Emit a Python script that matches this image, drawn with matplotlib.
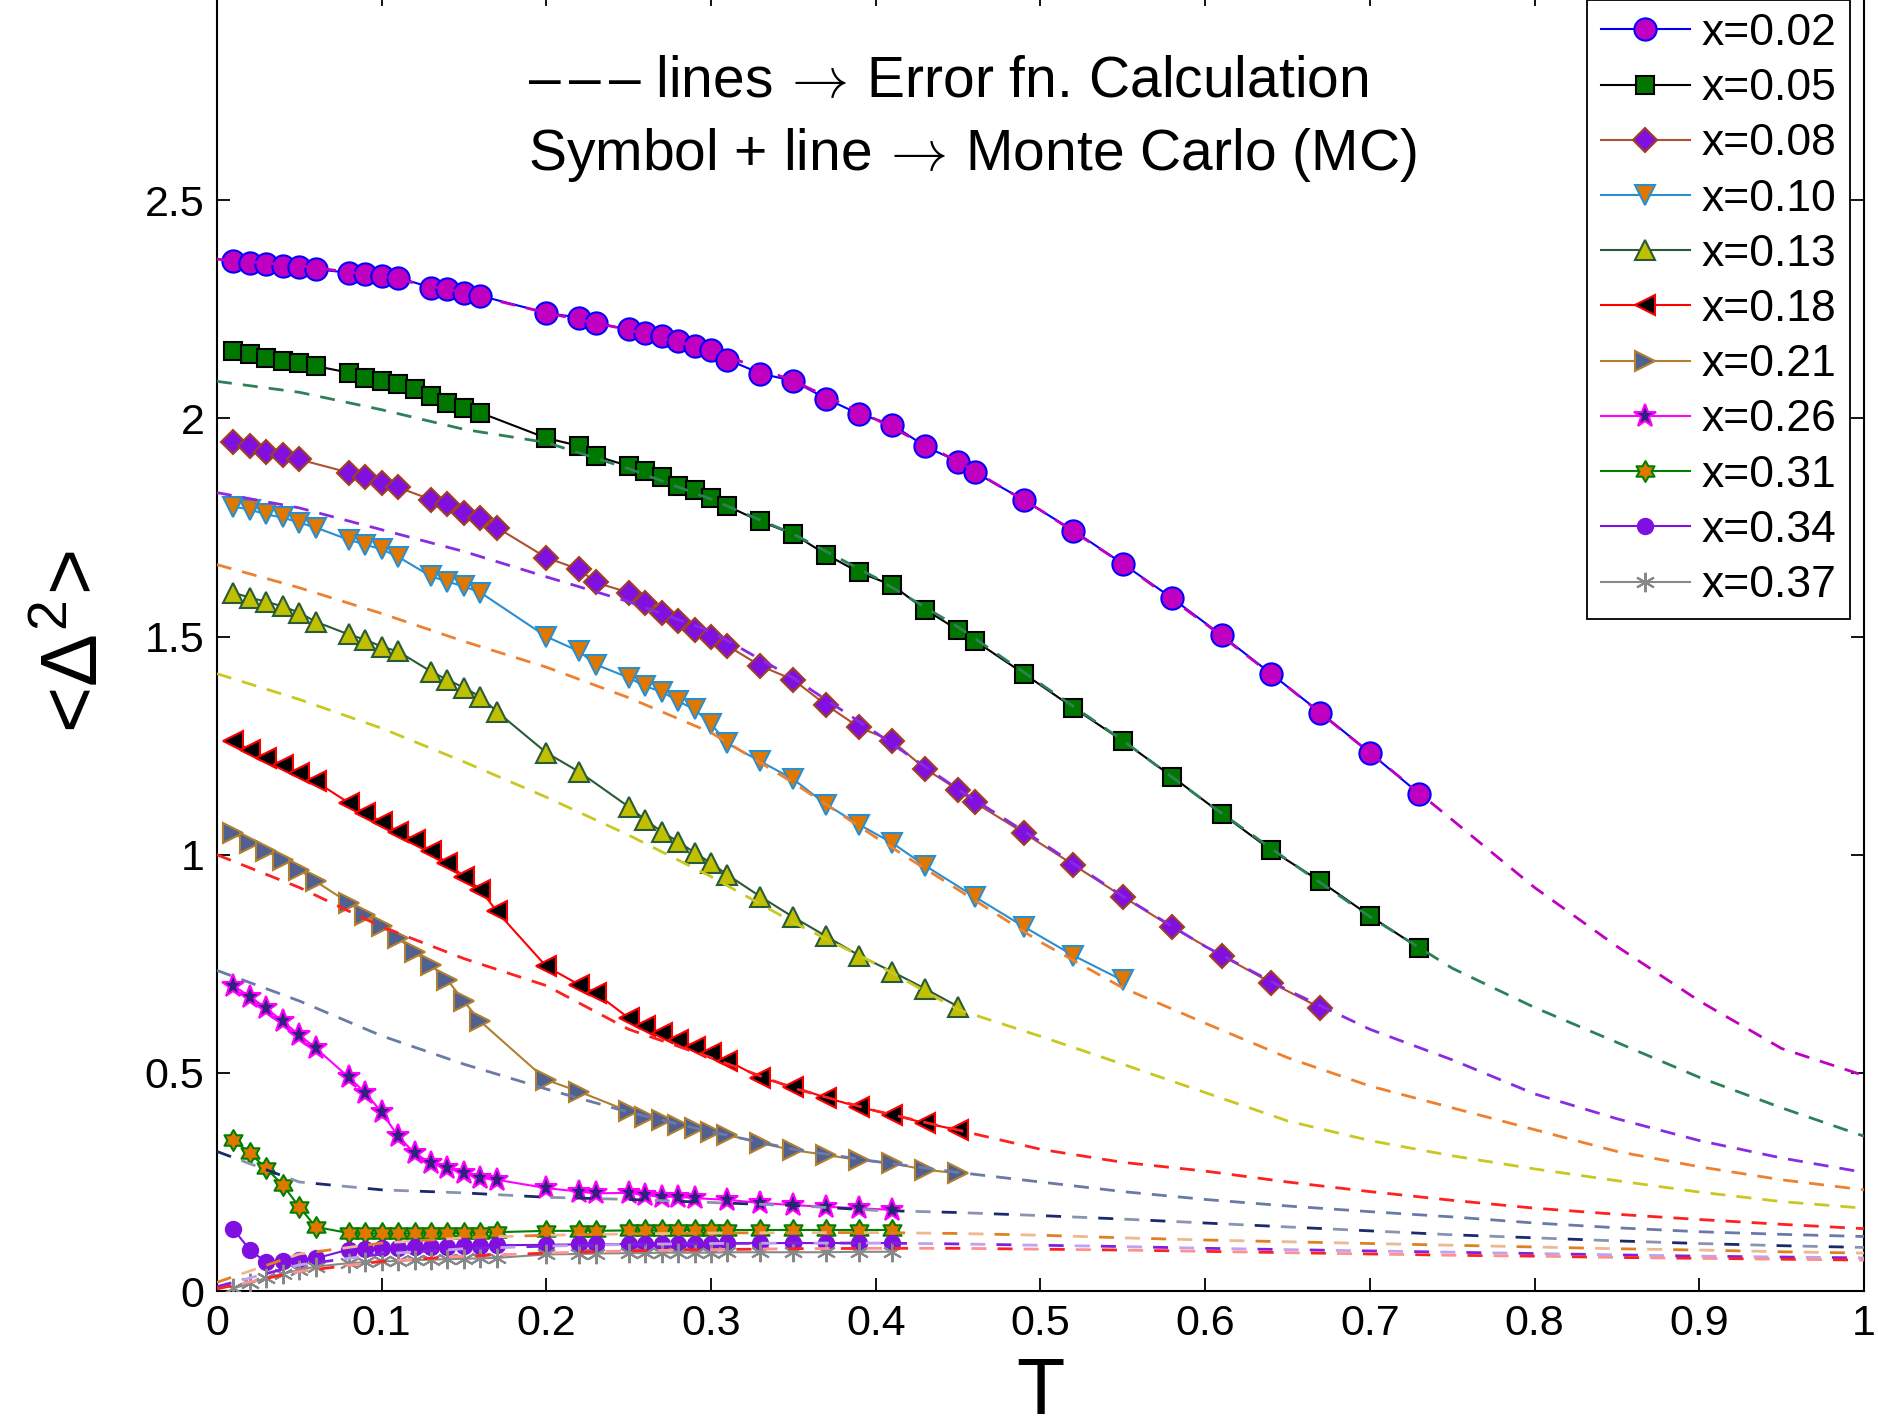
import matplotlib
matplotlib.use("Agg")
import matplotlib.pyplot as plt
from matplotlib.path import Path

plt.rcParams['font.family'] = ['Liberation Sans', 'DejaVu Sans']
plt.rcParams['mathtext.fontset'] = 'cm'

# --- Monte Carlo data (symbol + line)
t_002 = [0.01, 0.02, 0.03, 0.04, 0.05, 0.06, 0.08, 0.09, 0.10, 0.11, 0.13, 0.14, 0.15, 0.16,
         0.20, 0.22, 0.23, 0.25, 0.26, 0.27, 0.28, 0.29, 0.30, 0.31, 0.33, 0.35, 0.37, 0.39,
         0.41, 0.43, 0.45, 0.46, 0.49, 0.52, 0.55, 0.58, 0.61, 0.64, 0.67, 0.70, 0.73]
d_002 = [2.361, 2.357, 2.353, 2.349, 2.346, 2.342, 2.334, 2.330, 2.326, 2.323, 2.300, 2.296,
         2.288, 2.281, 2.242, 2.231, 2.219, 2.204, 2.196, 2.189, 2.177, 2.166, 2.156, 2.135,
         2.103, 2.086, 2.045, 2.010, 1.986, 1.936, 1.901, 1.877, 1.813, 1.743, 1.667, 1.588,
         1.503, 1.415, 1.326, 1.234, 1.140]

t_005 = [0.01, 0.02, 0.03, 0.04, 0.05, 0.06, 0.08, 0.09, 0.10, 0.11, 0.12, 0.13, 0.14, 0.15,
         0.16, 0.20, 0.22, 0.23, 0.25, 0.26, 0.27, 0.28, 0.29, 0.30, 0.31, 0.33, 0.35, 0.37,
         0.39, 0.41, 0.43, 0.45, 0.46, 0.49, 0.52, 0.55, 0.58, 0.61, 0.64, 0.67, 0.70, 0.73]
d_005 = [2.154, 2.147, 2.139, 2.131, 2.128, 2.120, 2.105, 2.093, 2.086, 2.078, 2.067, 2.051,
         2.036, 2.024, 2.013, 1.955, 1.937, 1.914, 1.891, 1.879, 1.865, 1.845, 1.837, 1.818,
         1.799, 1.764, 1.735, 1.688, 1.647, 1.618, 1.562, 1.515, 1.491, 1.415, 1.337, 1.261,
         1.179, 1.094, 1.011, 0.939, 0.860, 0.786]

t_008 = [0.01, 0.02, 0.03, 0.04, 0.05, 0.08, 0.09, 0.10, 0.11, 0.13, 0.14, 0.15, 0.16, 0.17,
         0.20, 0.22, 0.23, 0.25, 0.26, 0.27, 0.28, 0.29, 0.30, 0.31, 0.33, 0.35, 0.37, 0.39,
         0.41, 0.43, 0.45, 0.46, 0.49, 0.52, 0.55, 0.58, 0.61, 0.64, 0.67]
d_008 = [1.945, 1.936, 1.924, 1.917, 1.906, 1.876, 1.865, 1.853, 1.842, 1.814, 1.803, 1.784,
         1.772, 1.750, 1.681, 1.654, 1.624, 1.601, 1.578, 1.555, 1.535, 1.516, 1.499, 1.479,
         1.433, 1.401, 1.343, 1.292, 1.261, 1.197, 1.149, 1.120, 1.050, 0.977, 0.904, 0.834,
         0.769, 0.707, 0.649]

t_010 = [0.01, 0.02, 0.03, 0.04, 0.05, 0.06, 0.08, 0.09, 0.10, 0.11, 0.13, 0.14, 0.15, 0.16,
         0.20, 0.22, 0.23, 0.25, 0.26, 0.27, 0.28, 0.29, 0.30, 0.31, 0.33, 0.35, 0.37, 0.39,
         0.41, 0.43, 0.46, 0.49, 0.52, 0.55]
d_010 = [1.798, 1.791, 1.780, 1.773, 1.761, 1.750, 1.722, 1.711, 1.700, 1.683, 1.638, 1.626,
         1.615, 1.601, 1.500, 1.466, 1.436, 1.406, 1.386, 1.374, 1.352, 1.333, 1.300, 1.255,
         1.214, 1.173, 1.115, 1.069, 1.027, 0.975, 0.904, 0.835, 0.769, 0.712]

t_013 = [0.01, 0.02, 0.03, 0.04, 0.05, 0.06, 0.08, 0.09, 0.10, 0.11, 0.13, 0.14, 0.15, 0.16,
         0.17, 0.20, 0.22, 0.25, 0.26, 0.27, 0.28, 0.29, 0.30, 0.31, 0.33, 0.35, 0.37, 0.39,
         0.41, 0.43, 0.45]
d_013 = [1.601, 1.589, 1.580, 1.569, 1.555, 1.534, 1.505, 1.493, 1.477, 1.466, 1.420, 1.401,
         1.383, 1.362, 1.328, 1.234, 1.190, 1.110, 1.080, 1.053, 1.030, 1.005, 0.981, 0.954,
         0.904, 0.857, 0.813, 0.769, 0.732, 0.693, 0.652]

t_018 = [0.01, 0.02, 0.03, 0.04, 0.05, 0.06, 0.08, 0.09, 0.10, 0.11, 0.12, 0.13, 0.14, 0.15,
         0.16, 0.17, 0.20, 0.22, 0.23, 0.25, 0.26, 0.27, 0.28, 0.29, 0.30, 0.31, 0.33, 0.35,
         0.37, 0.39, 0.41, 0.43, 0.45]
d_018 = [1.260, 1.241, 1.222, 1.206, 1.187, 1.168, 1.119, 1.095, 1.076, 1.053, 1.034, 1.008,
         0.981, 0.950, 0.920, 0.870, 0.744, 0.702, 0.683, 0.626, 0.608, 0.591, 0.576, 0.560,
         0.545, 0.528, 0.489, 0.468, 0.443, 0.422, 0.404, 0.385, 0.369]

t_021 = [0.01, 0.02, 0.03, 0.04, 0.05, 0.06, 0.08, 0.09, 0.10, 0.11, 0.12, 0.13, 0.14, 0.15,
         0.16, 0.20, 0.22, 0.25, 0.26, 0.27, 0.28, 0.29, 0.30, 0.31, 0.33, 0.35, 0.37, 0.39,
         0.41, 0.43, 0.45]
d_021 = [1.050, 1.027, 1.008, 0.989, 0.966, 0.939, 0.890, 0.862, 0.836, 0.809, 0.778, 0.747,
         0.713, 0.664, 0.618, 0.484, 0.457, 0.412, 0.400, 0.392, 0.381, 0.374, 0.365, 0.358,
         0.339, 0.323, 0.312, 0.300, 0.293, 0.278, 0.270]

t_026 = [0.01, 0.02, 0.03, 0.04, 0.05, 0.06, 0.08, 0.09, 0.10, 0.11, 0.12, 0.13, 0.14, 0.15,
         0.16, 0.17, 0.20, 0.22, 0.23, 0.25, 0.26, 0.27, 0.28, 0.29, 0.31, 0.33, 0.35, 0.37,
         0.39, 0.41]
d_026 = [0.700, 0.675, 0.648, 0.618, 0.587, 0.557, 0.490, 0.455, 0.410, 0.355, 0.316, 0.293,
         0.282, 0.270, 0.259, 0.255, 0.236, 0.228, 0.224, 0.225, 0.220, 0.216, 0.216, 0.213,
         0.209, 0.202, 0.197, 0.193, 0.190, 0.186]

t_low = [0.01, 0.02, 0.03, 0.04, 0.05, 0.06, 0.08, 0.09, 0.10, 0.11, 0.12, 0.13, 0.14, 0.15,
         0.16, 0.17, 0.20, 0.22, 0.23, 0.25, 0.26, 0.27, 0.28, 0.29, 0.30, 0.31, 0.33, 0.35,
         0.37, 0.39, 0.41]
d_031 = [0.346, 0.316, 0.281, 0.243, 0.193, 0.147, 0.133, 0.132, 0.132, 0.132, 0.132, 0.133,
         0.133, 0.133, 0.134, 0.135, 0.138, 0.138, 0.138, 0.139, 0.139, 0.139, 0.140, 0.140,
         0.140, 0.140, 0.140, 0.140, 0.140, 0.140, 0.140]
d_034 = [0.142, 0.094, 0.066, 0.068, 0.072, 0.075, 0.095, 0.097, 0.098, 0.099, 0.100, 0.101,
         0.102, 0.103, 0.104, 0.105, 0.106, 0.107, 0.107, 0.108, 0.108, 0.109, 0.109, 0.109,
         0.109, 0.110, 0.110, 0.110, 0.110, 0.110, 0.110]
d_037 = [0.006, 0.018, 0.030, 0.040, 0.048, 0.056, 0.064, 0.066, 0.068, 0.069, 0.071, 0.072,
         0.073, 0.074, 0.075, 0.076, 0.084, 0.085, 0.086, 0.087, 0.087, 0.088, 0.088, 0.088,
         0.088, 0.089, 0.089, 0.089, 0.089, 0.090, 0.090]

# --- Error function calculation (dashed)
t_erf = [0.00, 0.05, 0.10, 0.15, 0.20, 0.25, 0.30, 0.35, 0.40, 0.45, 0.50,
         0.55, 0.60, 0.65, 0.70, 0.75, 0.80, 0.85, 0.90, 0.95, 1.00]
erf_002 = [2.365, 2.350, 2.326, 2.288, 2.242, 2.203, 2.156, 2.086, 1.998, 1.901, 1.790,
           1.667, 1.530, 1.385, 1.234, 1.080, 0.925, 0.790, 0.665, 0.556, 0.494]
erf_005 = [2.085, 2.060, 2.020, 1.975, 1.945, 1.885, 1.815, 1.735, 1.635, 1.522, 1.392,
           1.262, 1.122, 0.988, 0.858, 0.740, 0.650, 0.570, 0.490, 0.420, 0.355]
erf_008 = [1.830, 1.795, 1.745, 1.695, 1.637, 1.580, 1.512, 1.405, 1.280, 1.150, 1.030,
           0.905, 0.790, 0.690, 0.600, 0.530, 0.452, 0.395, 0.345, 0.305, 0.272]
erf_010 = [1.665, 1.612, 1.553, 1.489, 1.430, 1.360, 1.280, 1.165, 1.040, 0.920, 0.800,
           0.695, 0.614, 0.535, 0.470, 0.420, 0.370, 0.320, 0.285, 0.255, 0.232]
erf_013 = [1.415, 1.356, 1.290, 1.213, 1.132, 1.045, 0.950, 0.845, 0.750, 0.645, 0.584,
           0.520, 0.455, 0.390, 0.345, 0.310, 0.280, 0.253, 0.227, 0.205, 0.190]
erf_018 = [1.000, 0.925, 0.835, 0.762, 0.700, 0.600, 0.535, 0.465, 0.413, 0.369, 0.325,
           0.295, 0.275, 0.250, 0.228, 0.208, 0.190, 0.176, 0.164, 0.153, 0.143]
erf_021 = [0.735, 0.665, 0.585, 0.520, 0.463, 0.410, 0.365, 0.325, 0.297, 0.272, 0.250,
           0.228, 0.210, 0.195, 0.182, 0.170, 0.156, 0.145, 0.136, 0.130, 0.125]
erf_026 = [0.320, 0.250, 0.232, 0.225, 0.215, 0.210, 0.203, 0.196, 0.185, 0.180, 0.173,
           0.165, 0.156, 0.147, 0.138, 0.129, 0.122, 0.115, 0.109, 0.104, 0.100]
erf_031 = [0.020, 0.085, 0.110, 0.122, 0.128, 0.131, 0.133, 0.134, 0.134, 0.132, 0.128,
           0.122, 0.117, 0.113, 0.109, 0.105, 0.101, 0.097, 0.094, 0.090, 0.087]
erf_034 = [0.010, 0.060, 0.085, 0.097, 0.103, 0.107, 0.109, 0.110, 0.110, 0.108, 0.105,
           0.102, 0.098, 0.095, 0.092, 0.089, 0.086, 0.083, 0.080, 0.078, 0.076]
erf_037 = [0.005, 0.045, 0.068, 0.080, 0.087, 0.092, 0.095, 0.097, 0.098, 0.098, 0.096,
           0.094, 0.091, 0.088, 0.085, 0.082, 0.080, 0.077, 0.075, 0.073, 0.071]

labels = ['x=0.02', 'x=0.05', 'x=0.08', 'x=0.10', 'x=0.13', 'x=0.18',
          'x=0.21', 'x=0.26', 'x=0.31', 'x=0.34', 'x=0.37']
xticks = [0, 0.1, 0.2, 0.3, 0.4, 0.5, 0.6, 0.7, 0.8, 0.9, 1.0]
xtick_labels = ['0', '0.1', '0.2', '0.3', '0.4', '0.5', '0.6', '0.7', '0.8', '0.9', '1']
yticks = [0, 0.5, 1, 1.5, 2, 2.5]
ytick_labels = ['0', '0.5', '1', '1.5', '2', '2.5']

hexagram = Path.unit_regular_star(6, 0.58)

mc_series = [
    (t_002, d_002, dict(marker='o', ms=16, mfc='#c000c0', mec='#0000ff', color='#0000ff')),
    (t_005, d_005, dict(marker='s', ms=13, mfc='#007800', mec='black', color='black')),
    (t_008, d_008, dict(marker='D', ms=12.5, mfc='#8010e0', mec='#a04020', color='#b05030')),
    (t_010, d_010, dict(marker='v', ms=15, mfc='#e07800', mec='#2a8fd0', color='#2a8fd0')),
    (t_013, d_013, dict(marker='^', ms=15, mfc='#c0c000', mec='#2a5a38', color='#2a5a38')),
    (t_018, d_018, dict(marker='<', ms=15, mfc='black', mec='#ff0000', color='#ff0000')),
    (t_021, d_021, dict(marker='>', ms=15, mfc='#506090', mec='#b08030', color='#b08030')),
    (t_026, d_026, dict(marker='*', ms=17, mfc='#302080', mec='#ff00ff', color='#ff00ff')),
    (t_low, d_031, dict(marker=hexagram, ms=15, mfc='#e07800', mec='#008000', color='#008000')),
    (t_low, d_034, dict(marker='o', ms=11, mfc='#8010e0', mec='#8010e0', color='#8010e0')),
    (t_low, d_037, dict(marker=(6, 2, 0), ms=14, mfc='#888888', mec='#888888', color='#888888')),
]

erf_series = [
    (erf_002, '#c000c0', None),
    (erf_005, '#2e8059', None),
    (erf_008, '#8a2be2', None),
    (erf_010, '#ee8030', None),
    (erf_013, '#c8c820', None),
    (erf_018, '#ff2020', None),
    (erf_021, '#6a7aa6', None),
    (erf_026, '#1a2a6a', '#8a94b0'),
    (erf_031, '#e08020', '#f0b890'),
    (erf_034, '#8020e0', '#c0a0f0'),
    (erf_037, '#ff2020', '#ff9090'),
]

fig = plt.figure(figsize=(18.78, 14.20), dpi=100)
ax = fig.add_axes([0.1155, 0.0908, 0.8770, 0.9141])

handles = []
for t, d, st in mc_series:
    h, = ax.plot(t, d, lw=1.5, mew=1.5, zorder=3, **st)
    handles.append(h)

# dashed lines drawn on top, low ones in two tones
for y, c1, c2 in erf_series:
    if c2 is None:
        ax.plot(t_erf, y, color=c1, lw=2, ls=(0, (5.4, 4.0)), zorder=4)
    else:
        ax.plot(t_erf, y, color=c1, lw=2, ls=(0, (5.4, 13.4)), zorder=4)
        ax.plot(t_erf, y, color=c2, lw=2, ls=(9.4, (5.4, 13.4)), zorder=4)

ax.set_xlim(0, 1)
ax.set_ylim(0, 2.975)
ax.set_xticks(xticks)
ax.set_xticklabels(xtick_labels)
ax.set_yticks(yticks)
ax.set_yticklabels(ytick_labels)
ax.tick_params(direction='in', length=9.5, width=1.3, labelsize=31, pad=9,
               top=True, right=True)
for s in ax.spines.values():
    s.set_linewidth(1.5)

ax.set_xlabel('T', fontsize=57)
ax.xaxis.set_label_coords(0.5, -0.050)
ax.set_ylabel('<Δ$^{\\mathdefault{2}}$>', fontsize=57, va='baseline')
ax.yaxis.set_label_coords(-0.0723, 0.5)

ax.text(0.1888, 2.737, '–$\\,$–$\\,$– lines$\\,\\rightarrow\\,$Error fn. Calculation',
        fontsize=41, va='baseline')
ax.text(0.1888, 2.569, 'Symbol + line$\\,\\rightarrow\\,$Monte Carlo (MC)',
        fontsize=41, va='baseline')

leg = ax.legend(handles, labels, loc='upper right', bbox_to_anchor=(0.9915, 0.9950),
                borderaxespad=0, fontsize=32, numpoints=1, handlelength=2.0,
                handletextpad=0.27, labelspacing=0.32, borderpad=0.3,
                fancybox=False, framealpha=1, edgecolor='black')
leg.get_frame().set_linewidth(1.3)
leg.set_zorder(10)

fig.savefig('out.png', dpi=100)
